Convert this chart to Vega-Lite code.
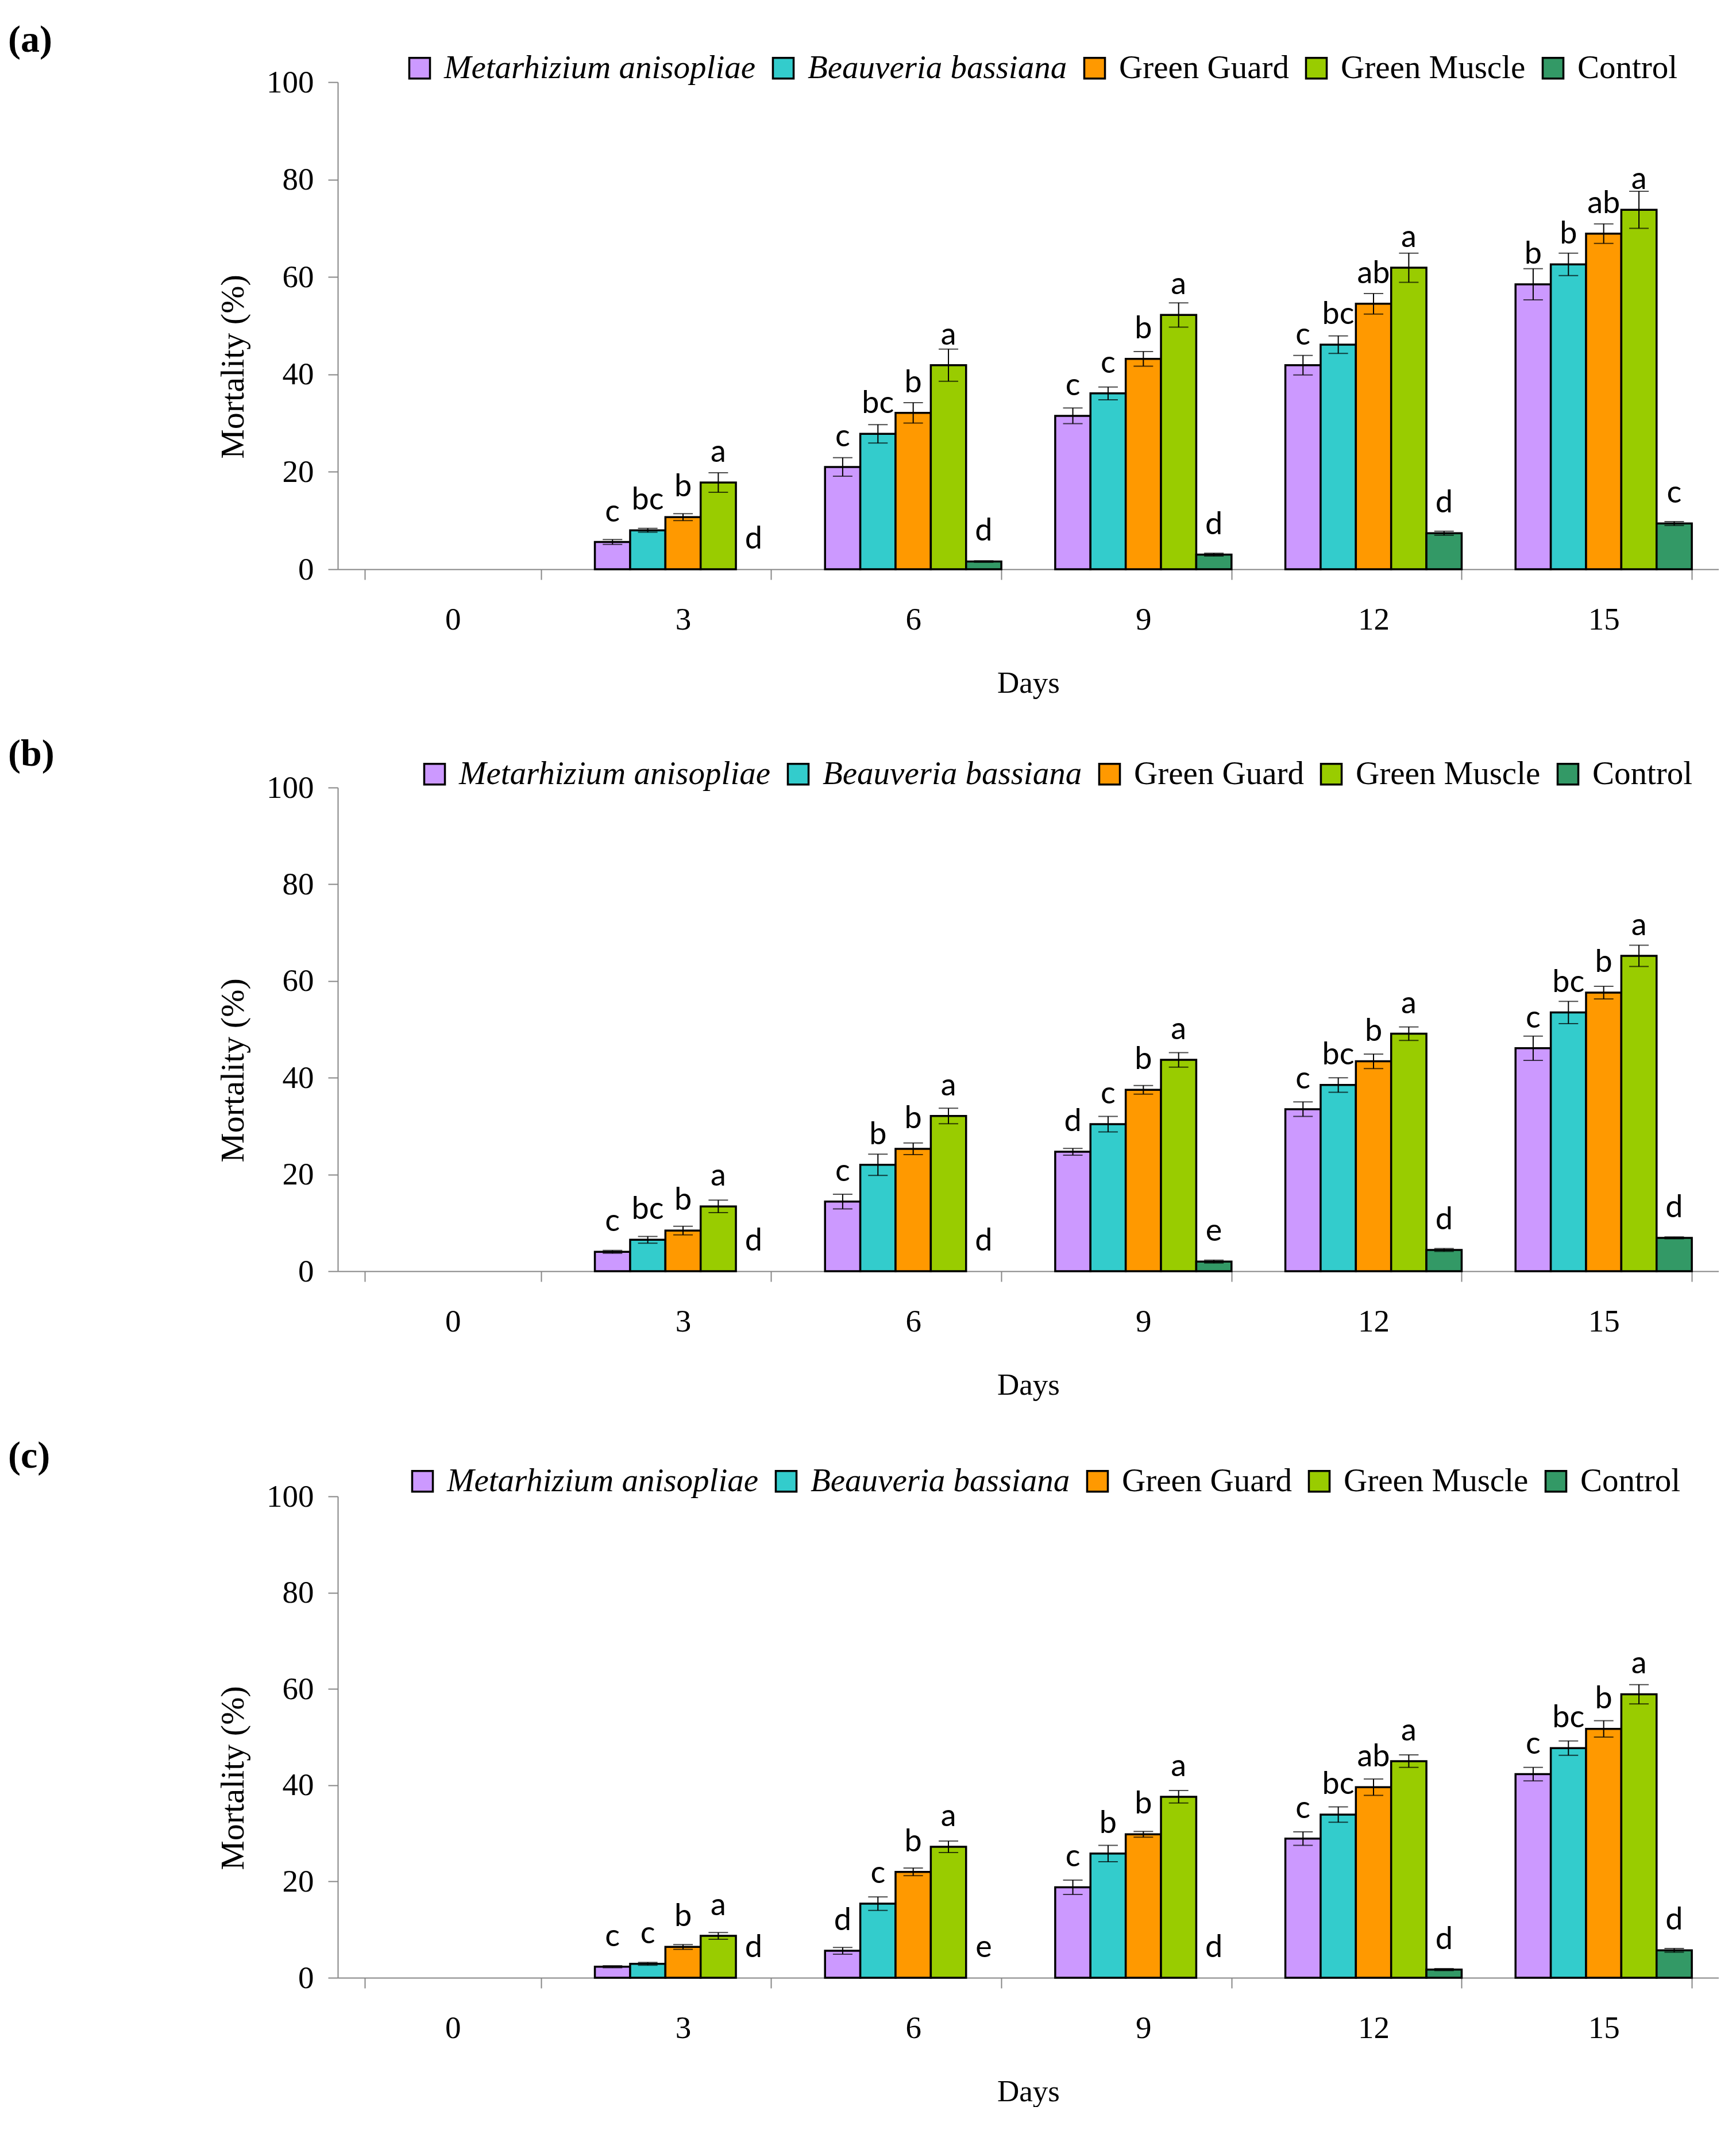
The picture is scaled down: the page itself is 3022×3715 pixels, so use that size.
{
  "$schema": "https://vega.github.io/schema/vega-lite/v6.json",
  "background": "white",
  "padding": {"left": 14, "top": 37, "right": 0, "bottom": 0},
  "config": {
    "view": {"stroke": null},
    "style": {
      "guide-label": {"font": "Liberation Serif", "fontSize": 55, "fill": "black"},
      "guide-title": {"font": "Liberation Serif", "fontSize": 55, "fill": "black", "fontWeight": "normal"}
    },
    "axis": {
      "labelFont": "Liberation Serif", "titleFont": "Liberation Serif",
      "labelFontSize": 55, "titleFontSize": 55, "titleFontWeight": "normal",
      "labelColor": "black", "titleColor": "black",
      "domainColor": "#868686", "tickColor": "#868686",
      "domainWidth": 2, "tickWidth": 2, "grid": false
    },
    "axisY": {"titleFontSize": 58},
    "axisX": {"titleFontSize": 53},
    "title": {"font": "Liberation Serif", "fontSize": 66, "fontWeight": "bold", "anchor": "start", "frame": "group", "color": "black"},
    "legend": {
      "orient": "none", "direction": "horizontal", "columns": 5, "title": null,
      "symbolType": "square", "symbolSize": 1300, "symbolStrokeColor": "black", "symbolStrokeWidth": 3.5,
      "labelFont": "Liberation Serif", "labelFontSize": 57, "labelColor": "black", "labelOffset": 14,
      "columnPadding": 19, "labelLimit": 2000
    }
  },
  "datasets": {
    "a": [
      {"day":3,"t":"Metarhizium anisopliae","value":5.6,"lo":5.1,"hi":6.1,"letter":"c"},
      {"day":3,"t":"Beauveria bassiana","value":8.0,"lo":7.6,"hi":8.4,"letter":"bc"},
      {"day":3,"t":"Green Guard","value":10.7,"lo":10.0,"hi":11.4,"letter":"b"},
      {"day":3,"t":"Green Muscle","value":17.8,"lo":15.8,"hi":19.8,"letter":"a"},
      {"day":3,"t":"Control","value":0,"lo":null,"hi":null,"letter":"d"},
      {"day":6,"t":"Metarhizium anisopliae","value":21.0,"lo":19.1,"hi":22.9,"letter":"c"},
      {"day":6,"t":"Beauveria bassiana","value":27.8,"lo":25.9,"hi":29.7,"letter":"bc"},
      {"day":6,"t":"Green Guard","value":32.1,"lo":30.0,"hi":34.2,"letter":"b"},
      {"day":6,"t":"Green Muscle","value":41.9,"lo":38.6,"hi":45.2,"letter":"a"},
      {"day":6,"t":"Control","value":1.6,"lo":1.45,"hi":1.75,"letter":"d"},
      {"day":9,"t":"Metarhizium anisopliae","value":31.5,"lo":29.9,"hi":33.1,"letter":"c"},
      {"day":9,"t":"Beauveria bassiana","value":36.1,"lo":34.8,"hi":37.4,"letter":"c"},
      {"day":9,"t":"Green Guard","value":43.2,"lo":41.7,"hi":44.7,"letter":"b"},
      {"day":9,"t":"Green Muscle","value":52.2,"lo":49.7,"hi":54.7,"letter":"a"},
      {"day":9,"t":"Control","value":3.0,"lo":2.7,"hi":3.3,"letter":"d"},
      {"day":12,"t":"Metarhizium anisopliae","value":41.9,"lo":39.9,"hi":43.9,"letter":"c"},
      {"day":12,"t":"Beauveria bassiana","value":46.1,"lo":44.3,"hi":47.9,"letter":"bc"},
      {"day":12,"t":"Green Guard","value":54.5,"lo":52.4,"hi":56.6,"letter":"ab"},
      {"day":12,"t":"Green Muscle","value":61.9,"lo":58.9,"hi":64.9,"letter":"a"},
      {"day":12,"t":"Control","value":7.4,"lo":7.0,"hi":7.8,"letter":"d"},
      {"day":15,"t":"Metarhizium anisopliae","value":58.5,"lo":55.3,"hi":61.7,"letter":"b"},
      {"day":15,"t":"Beauveria bassiana","value":62.6,"lo":60.3,"hi":64.9,"letter":"b"},
      {"day":15,"t":"Green Guard","value":68.9,"lo":66.9,"hi":70.9,"letter":"ab"},
      {"day":15,"t":"Green Muscle","value":73.8,"lo":70.0,"hi":77.6,"letter":"a"},
      {"day":15,"t":"Control","value":9.4,"lo":9.0,"hi":9.8,"letter":"c"}
    ],
    "b": [
      {"day":3,"t":"Metarhizium anisopliae","value":4.0,"lo":3.7,"hi":4.3,"letter":"c"},
      {"day":3,"t":"Beauveria bassiana","value":6.5,"lo":5.8,"hi":7.2,"letter":"bc"},
      {"day":3,"t":"Green Guard","value":8.4,"lo":7.5,"hi":9.3,"letter":"b"},
      {"day":3,"t":"Green Muscle","value":13.4,"lo":12.1,"hi":14.7,"letter":"a"},
      {"day":3,"t":"Control","value":0,"lo":null,"hi":null,"letter":"d"},
      {"day":6,"t":"Metarhizium anisopliae","value":14.4,"lo":12.9,"hi":15.9,"letter":"c"},
      {"day":6,"t":"Beauveria bassiana","value":22.0,"lo":19.8,"hi":24.2,"letter":"b"},
      {"day":6,"t":"Green Guard","value":25.3,"lo":24.1,"hi":26.5,"letter":"b"},
      {"day":6,"t":"Green Muscle","value":32.1,"lo":30.5,"hi":33.7,"letter":"a"},
      {"day":6,"t":"Control","value":0,"lo":null,"hi":null,"letter":"d"},
      {"day":9,"t":"Metarhizium anisopliae","value":24.7,"lo":24.0,"hi":25.4,"letter":"d"},
      {"day":9,"t":"Beauveria bassiana","value":30.4,"lo":28.8,"hi":32.0,"letter":"c"},
      {"day":9,"t":"Green Guard","value":37.5,"lo":36.6,"hi":38.4,"letter":"b"},
      {"day":9,"t":"Green Muscle","value":43.7,"lo":42.2,"hi":45.2,"letter":"a"},
      {"day":9,"t":"Control","value":2.0,"lo":1.7,"hi":2.3,"letter":"e"},
      {"day":12,"t":"Metarhizium anisopliae","value":33.5,"lo":32.0,"hi":35.0,"letter":"c"},
      {"day":12,"t":"Beauveria bassiana","value":38.5,"lo":37.0,"hi":40.0,"letter":"bc"},
      {"day":12,"t":"Green Guard","value":43.4,"lo":41.9,"hi":44.9,"letter":"b"},
      {"day":12,"t":"Green Muscle","value":49.1,"lo":47.7,"hi":50.5,"letter":"a"},
      {"day":12,"t":"Control","value":4.4,"lo":4.1,"hi":4.7,"letter":"d"},
      {"day":15,"t":"Metarhizium anisopliae","value":46.1,"lo":43.6,"hi":48.6,"letter":"c"},
      {"day":15,"t":"Beauveria bassiana","value":53.5,"lo":51.2,"hi":55.8,"letter":"bc"},
      {"day":15,"t":"Green Guard","value":57.6,"lo":56.3,"hi":58.9,"letter":"b"},
      {"day":15,"t":"Green Muscle","value":65.2,"lo":63.0,"hi":67.4,"letter":"a"},
      {"day":15,"t":"Control","value":6.9,"lo":6.7,"hi":7.1,"letter":"d"}
    ],
    "c": [
      {"day":3,"t":"Metarhizium anisopliae","value":2.3,"lo":2.1,"hi":2.5,"letter":"c"},
      {"day":3,"t":"Beauveria bassiana","value":2.9,"lo":2.6,"hi":3.2,"letter":"c"},
      {"day":3,"t":"Green Guard","value":6.4,"lo":5.9,"hi":6.9,"letter":"b"},
      {"day":3,"t":"Green Muscle","value":8.7,"lo":8.0,"hi":9.4,"letter":"a"},
      {"day":3,"t":"Control","value":0,"lo":null,"hi":null,"letter":"d"},
      {"day":6,"t":"Metarhizium anisopliae","value":5.6,"lo":4.9,"hi":6.3,"letter":"d"},
      {"day":6,"t":"Beauveria bassiana","value":15.4,"lo":14.0,"hi":16.8,"letter":"c"},
      {"day":6,"t":"Green Guard","value":22.0,"lo":21.2,"hi":22.8,"letter":"b"},
      {"day":6,"t":"Green Muscle","value":27.2,"lo":26.0,"hi":28.4,"letter":"a"},
      {"day":6,"t":"Control","value":0,"lo":null,"hi":null,"letter":"e"},
      {"day":9,"t":"Metarhizium anisopliae","value":18.8,"lo":17.3,"hi":20.3,"letter":"c"},
      {"day":9,"t":"Beauveria bassiana","value":25.8,"lo":24.1,"hi":27.5,"letter":"b"},
      {"day":9,"t":"Green Guard","value":29.8,"lo":29.2,"hi":30.4,"letter":"b"},
      {"day":9,"t":"Green Muscle","value":37.6,"lo":36.3,"hi":38.9,"letter":"a"},
      {"day":9,"t":"Control","value":0,"lo":null,"hi":null,"letter":"d"},
      {"day":12,"t":"Metarhizium anisopliae","value":28.9,"lo":27.5,"hi":30.3,"letter":"c"},
      {"day":12,"t":"Beauveria bassiana","value":33.9,"lo":32.3,"hi":35.5,"letter":"bc"},
      {"day":12,"t":"Green Guard","value":39.6,"lo":37.9,"hi":41.3,"letter":"ab"},
      {"day":12,"t":"Green Muscle","value":45.0,"lo":43.7,"hi":46.3,"letter":"a"},
      {"day":12,"t":"Control","value":1.7,"lo":1.5,"hi":1.9,"letter":"d"},
      {"day":15,"t":"Metarhizium anisopliae","value":42.3,"lo":40.9,"hi":43.7,"letter":"c"},
      {"day":15,"t":"Beauveria bassiana","value":47.7,"lo":46.2,"hi":49.2,"letter":"bc"},
      {"day":15,"t":"Green Guard","value":51.7,"lo":50.0,"hi":53.4,"letter":"b"},
      {"day":15,"t":"Green Muscle","value":58.9,"lo":56.9,"hi":60.9,"letter":"a"},
      {"day":15,"t":"Control","value":5.7,"lo":5.3,"hi":6.1,"letter":"d"}
    ]
  },
  "spacing": 64,
  "resolve": {"scale": {"color": "independent"}, "legend": {"color": "independent"}},
  "vconcat": [
    {
      "width": 2404, "height": 848,
      "title": {"text": "(a)", "dx": -574, "offset": -14},
      "data": {"name": "a"},
      "encoding": {
        "x": {"field": "day", "type": "ordinal", "title": "Days",
              "scale": {"domain": [0,3,6,9,12,15], "paddingInner": 0.234, "paddingOuter": 0.117},
              "axis": {"labelAngle": 0, "tickBand": "extent", "tickSize": 18, "labelPadding": 43, "titlePadding": 57, "labelFont": "Liberation Serif", "labelFontSize": 55}},
        "xOffset": {"field": "t", "type": "nominal", "scale": {"domain": ["Metarhizium anisopliae","Beauveria bassiana","Green Guard","Green Muscle","Control"], "paddingInner": 0, "paddingOuter": 0}}
      },
      "layer": [
        {"transform": [{"filter": "datum.value > 0"}],
         "mark": {"type": "bar", "stroke": "black", "strokeWidth": 3.5},
         "encoding": {
           "y": {"field": "value", "type": "quantitative", "title": "Mortality (%)", "scale": {"domain": [0,100]},
                 "axis": {"values": [0,20,40,60,80,100], "tickSize": 17, "labelPadding": 25, "titlePadding": 28, "titleY": 495, "labelFont": "Liberation Serif", "labelFontSize": 55}},
           "color": {"field": "t", "type": "nominal",
                     "scale": {"domain": ["Metarhizium anisopliae","Beauveria bassiana","Green Guard","Green Muscle","Control"], "range": ["#CC99FF","#33CCCC","#FF9900","#99CC00","#339966"]},
                     "legend": {"legendX": 114, "legendY": -53, "labelFont": "Liberation Serif",
                                "encoding": {"labels": {"font": {"value": "Liberation Serif"}, "fontSize": {"value": 57}, "fontStyle": {"condition": {"test": "datum.label == 'Metarhizium anisopliae' || datum.label == 'Beauveria bassiana'", "value": "italic"}, "value": "normal"}}}}}
         }},
        {"transform": [{"filter": "datum.hi != null"}],
         "mark": {"type": "rule", "color": "black", "strokeWidth": 2},
         "encoding": {"y": {"field": "lo", "type": "quantitative", "title": "Mortality (%)"}, "y2": {"field": "hi"}}},
        {"transform": [{"filter": "datum.hi != null"}],
         "mark": {"type": "tick", "color": "black", "thickness": 2, "size": 34},
         "encoding": {"y": {"field": "lo", "type": "quantitative", "title": "Mortality (%)"}}},
        {"transform": [{"filter": "datum.hi != null"}],
         "mark": {"type": "tick", "color": "black", "thickness": 2, "size": 34},
         "encoding": {"y": {"field": "hi", "type": "quantitative", "title": "Mortality (%)"}}},
        {"mark": {"type": "text", "font": "Lato", "fontSize": 54, "baseline": "alphabetic", "dy": -36, "color": "black"},
         "encoding": {"y": {"field": "value", "type": "quantitative", "title": "Mortality (%)"}, "text": {"field": "letter"}}}
      ]
    },
    {
      "width": 2404, "height": 842,
      "title": {"text": "(b)", "dx": -574, "offset": -28},
      "data": {"name": "b"},
      "encoding": {
        "x": {"field": "day", "type": "ordinal", "title": "Days",
              "scale": {"domain": [0,3,6,9,12,15], "paddingInner": 0.234, "paddingOuter": 0.117},
              "axis": {"labelAngle": 0, "tickBand": "extent", "tickSize": 18, "labelPadding": 43, "titlePadding": 57, "labelFont": "Liberation Serif", "labelFontSize": 55}},
        "xOffset": {"field": "t", "type": "nominal", "scale": {"domain": ["Metarhizium anisopliae","Beauveria bassiana","Green Guard","Green Muscle","Control"], "paddingInner": 0, "paddingOuter": 0}}
      },
      "layer": [
        {"transform": [{"filter": "datum.value > 0"}],
         "mark": {"type": "bar", "stroke": "black", "strokeWidth": 3.5},
         "encoding": {
           "y": {"field": "value", "type": "quantitative", "title": "Mortality (%)", "scale": {"domain": [0,100]},
                 "axis": {"values": [0,20,40,60,80,100], "tickSize": 17, "labelPadding": 25, "titlePadding": 28, "titleY": 492, "labelFont": "Liberation Serif", "labelFontSize": 55}},
           "color": {"field": "t", "type": "nominal",
                     "scale": {"domain": ["Metarhizium anisopliae","Beauveria bassiana","Green Guard","Green Muscle","Control"], "range": ["#CC99FF","#33CCCC","#FF9900","#99CC00","#339966"]},
                     "legend": {"legendX": 140, "legendY": -52, "labelFont": "Liberation Serif",
                                "encoding": {"labels": {"font": {"value": "Liberation Serif"}, "fontSize": {"value": 57}, "fontStyle": {"condition": {"test": "datum.label == 'Metarhizium anisopliae' || datum.label == 'Beauveria bassiana'", "value": "italic"}, "value": "normal"}}}}}
         }},
        {"transform": [{"filter": "datum.hi != null"}],
         "mark": {"type": "rule", "color": "black", "strokeWidth": 2},
         "encoding": {"y": {"field": "lo", "type": "quantitative", "title": "Mortality (%)"}, "y2": {"field": "hi"}}},
        {"transform": [{"filter": "datum.hi != null"}],
         "mark": {"type": "tick", "color": "black", "thickness": 2, "size": 34},
         "encoding": {"y": {"field": "lo", "type": "quantitative", "title": "Mortality (%)"}}},
        {"transform": [{"filter": "datum.hi != null"}],
         "mark": {"type": "tick", "color": "black", "thickness": 2, "size": 34},
         "encoding": {"y": {"field": "hi", "type": "quantitative", "title": "Mortality (%)"}}},
        {"mark": {"type": "text", "font": "Lato", "fontSize": 54, "baseline": "alphabetic", "dy": -36, "color": "black"},
         "encoding": {"y": {"field": "value", "type": "quantitative", "title": "Mortality (%)"}, "text": {"field": "letter"}}}
      ]
    },
    {
      "width": 2404, "height": 838,
      "title": {"text": "(c)", "dx": -574, "offset": -19},
      "data": {"name": "c"},
      "encoding": {
        "x": {"field": "day", "type": "ordinal", "title": "Days",
              "scale": {"domain": [0,3,6,9,12,15], "paddingInner": 0.234, "paddingOuter": 0.117},
              "axis": {"labelAngle": 0, "tickBand": "extent", "tickSize": 18, "labelPadding": 43, "titlePadding": 57, "labelFont": "Liberation Serif", "labelFontSize": 55}},
        "xOffset": {"field": "t", "type": "nominal", "scale": {"domain": ["Metarhizium anisopliae","Beauveria bassiana","Green Guard","Green Muscle","Control"], "paddingInner": 0, "paddingOuter": 0}}
      },
      "layer": [
        {"transform": [{"filter": "datum.value > 0"}],
         "mark": {"type": "bar", "stroke": "black", "strokeWidth": 3.5},
         "encoding": {
           "y": {"field": "value", "type": "quantitative", "title": "Mortality (%)", "scale": {"domain": [0,100]},
                 "axis": {"values": [0,20,40,60,80,100], "tickSize": 17, "labelPadding": 25, "titlePadding": 28, "titleY": 490, "labelFont": "Liberation Serif", "labelFontSize": 55}},
           "color": {"field": "t", "type": "nominal",
                     "scale": {"domain": ["Metarhizium anisopliae","Beauveria bassiana","Green Guard","Green Muscle","Control"], "range": ["#CC99FF","#33CCCC","#FF9900","#99CC00","#339966"]},
                     "legend": {"legendX": 119, "legendY": -55, "labelFont": "Liberation Serif",
                                "encoding": {"labels": {"font": {"value": "Liberation Serif"}, "fontSize": {"value": 57}, "fontStyle": {"condition": {"test": "datum.label == 'Metarhizium anisopliae' || datum.label == 'Beauveria bassiana'", "value": "italic"}, "value": "normal"}}}}}
         }},
        {"transform": [{"filter": "datum.hi != null"}],
         "mark": {"type": "rule", "color": "black", "strokeWidth": 2},
         "encoding": {"y": {"field": "lo", "type": "quantitative", "title": "Mortality (%)"}, "y2": {"field": "hi"}}},
        {"transform": [{"filter": "datum.hi != null"}],
         "mark": {"type": "tick", "color": "black", "thickness": 2, "size": 34},
         "encoding": {"y": {"field": "lo", "type": "quantitative", "title": "Mortality (%)"}}},
        {"transform": [{"filter": "datum.hi != null"}],
         "mark": {"type": "tick", "color": "black", "thickness": 2, "size": 34},
         "encoding": {"y": {"field": "hi", "type": "quantitative", "title": "Mortality (%)"}}},
        {"mark": {"type": "text", "font": "Lato", "fontSize": 54, "baseline": "alphabetic", "dy": -36, "color": "black"},
         "encoding": {"y": {"field": "value", "type": "quantitative", "title": "Mortality (%)"}, "text": {"field": "letter"}}}
      ]
    }
  ]
}
